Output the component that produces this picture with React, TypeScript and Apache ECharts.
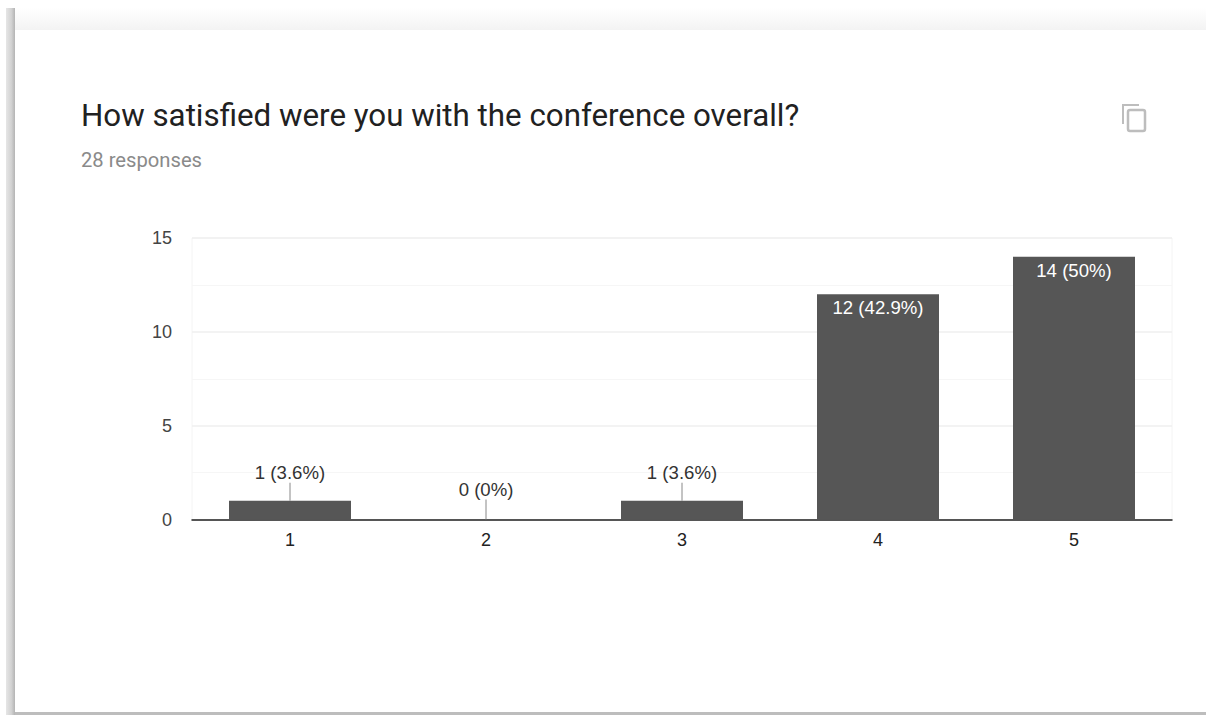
import React, { useEffect, useRef } from "react";
import * as echarts from "echarts";

const titleText = "How satisfied were you with the conference overall?";
const subtitleText = "28 responses";
const categories = ["1", "2", "3", "4", "5"];
const counts = [1, 0, 1, 12, 14];
const labels = ["1 (3.6%)", "0 (0%)", "1 (3.6%)", "12 (42.9%)", "14 (50%)"];
const yTicks = [0, 5, 10, 15];
const insideFrom = 5;

export default function App() {
  const ref = useRef<HTMLDivElement>(null);
  useEffect(() => {
    const chart = echarts.init(ref.current!, undefined, { renderer: "svg" });
    const grad = (x: number, y: number, x2: number, y2: number, stops: [number, string][]) =>
      new echarts.graphic.LinearGradient(x, y, x2, y2, stops.map(([offset, color]) => ({ offset, color })));
    chart.setOption({
      animation: false,
      backgroundColor: "#ffffff",
      textStyle: { fontFamily: "Liberation Sans" },
      graphic: [
        { type: "rect", silent: true, shape: { x: 15, y: 8, width: 1191, height: 22 }, style: { fill: grad(0, 0, 0, 1, [[0, "#ffffff"], [1, "#f3f3f3"]]) } },
        { type: "rect", silent: true, shape: { x: 6, y: 8, width: 9, height: 707 }, style: { fill: grad(0, 0, 1, 0, [[0, "#e6e6e6"], [0.6, "#d2d2d2"], [1, "#b4b4b4"]]) } },
        { type: "rect", silent: true, shape: { x: 15, y: 712, width: 1191, height: 3 }, style: { fill: "#bdbdbd" } },
        { type: "text", x: 81, y: 115, style: { text: titleText, fontFamily: "Roboto", fontSize: 31.3, fill: "#212121", textVerticalAlign: "middle" } },
        { type: "text", x: 81, y: 159.5, style: { text: subtitleText, fontFamily: "Roboto", fontSize: 20.2, fill: "#8a8a8a", textVerticalAlign: "middle" } },
        { type: "polyline", silent: true, shape: { points: [[1123, 124], [1123, 105], [1139, 105]] }, style: { stroke: "#bdbdbd", lineWidth: 2, fill: "none" } },
        { type: "rect", silent: true, shape: { x: 1128, y: 110, width: 17, height: 21, r: 2 }, style: { stroke: "#bdbdbd", lineWidth: 2.5, fill: "none" } },
      ],
      grid: { left: 192, right: 34, top: 238, bottom: 195.5, show: true, borderColor: "#f4f4f4", borderWidth: 1 },
      xAxis: {
        type: "category",
        data: categories,
        axisTick: { show: false },
        axisLine: { lineStyle: { color: "#222222", width: 1.5 } },
        axisLabel: { color: "#222222", fontSize: 18, margin: 11, fontFamily: "Liberation Sans" },
      },
      yAxis: {
        type: "value",
        min: yTicks[0],
        max: yTicks[yTicks.length - 1],
        interval: 5,
        splitNumber: 3,
        axisLine: { show: false },
        axisTick: { show: false },
        axisLabel: { color: "#444444", fontSize: 18, margin: 20, fontFamily: "Liberation Sans" },
        splitLine: { lineStyle: { color: "#efefef", width: 1.5 } },
        minorTick: { show: false, splitNumber: 2 },
        minorSplitLine: { show: true, lineStyle: { color: "#f6f6f6", width: 1 } },
      },
      series: [
        {
          type: "bar",
          barWidth: 122,
          itemStyle: { color: "#565656" },
          data: counts.map((value, i) => ({
            value,
            label: value >= insideFrom
              ? { show: true, position: "insideTop", distance: 4, color: "#ffffff", fontSize: 18.6, formatter: labels[i], fontFamily: "Liberation Sans" }
              : { show: true, position: "top", distance: value === 0 ? 21 : 19, color: "#333333", fontSize: 18.6, formatter: labels[i], fontFamily: "Liberation Sans" },
          })),
        },
        {
          type: "custom",
          silent: true,
          z: 3,
          data: counts.map((value, i) => [i, value]),
          renderItem: (_: unknown, api: any) => {
            const value = api.value(1);
            if (value >= insideFrom) return null;
            const p = api.coord([api.value(0), value]);
            const len = value === 0 ? 20 : 18;
            return {
              type: "line",
              shape: { x1: p[0], y1: p[1], x2: p[0], y2: p[1] - len },
              style: { stroke: "#888888", lineWidth: 1 },
            };
          },
        },
      ],
    });
    return () => chart.dispose();
  }, []);
  return <div ref={ref} style={{ position: "fixed", left: 0, top: 0, width: 1206, height: 715 }} />;
}
